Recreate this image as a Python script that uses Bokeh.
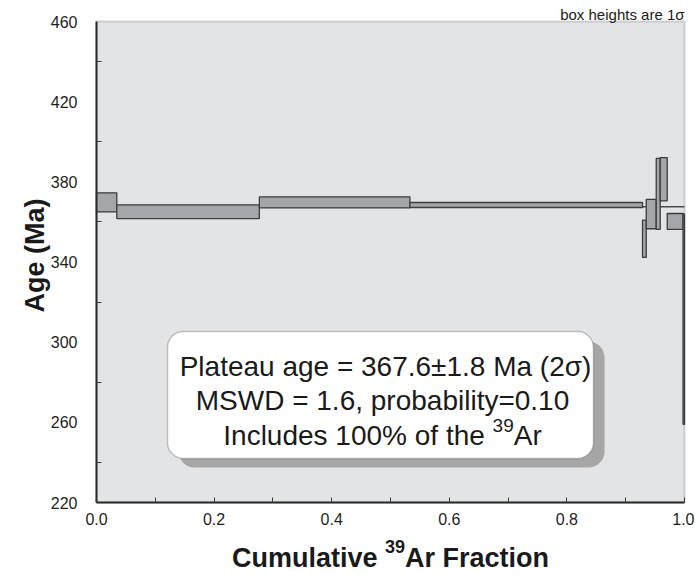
import numpy as np
from math import pi
from bokeh.plotting import figure
from bokeh.models import (Range1d, FixedTicker, BoxAnnotation, Label,
                          ColumnDataSource, PrintfTickFormatter)
from bokeh.embed import file_html
from bokeh.resources import INLINE

# ---------------- data ----------------
step_fraction = [0.0345, 0.2425, 0.2560, 0.3956, 0.0063, 0.0170, 0.0068, 0.0119, 0.0269, 0.0025]
step_age = [369.75, 365.1, 369.75, 368.45, 351.6, 363.9, 374.0, 381.3, 360.25, 311.5]
step_err_1s = [4.75, 3.45, 2.75, 1.25, 9.3, 7.3, 17.7, 10.8, 3.95, 52.5]

plateau_age = 367.6
plateau_err_2s = 1.8
plateau_mswd = 1.6
plateau_prob = 0.10
plateau_pct = 100
plateau_span = [0.0, 1.0]

x_lim = [0.0, 1.0]
y_lim = [220, 460]
x_major_ticks = [0.0, 0.2, 0.4, 0.6, 0.8, 1.0]
x_minor_ticks = [0.1, 0.3, 0.5, 0.7, 0.9]
y_major_ticks = [220, 260, 300, 340, 380, 420, 460]
y_minor_ticks = [240, 280, 320, 360, 400, 440]

# ---------------- layout helpers ----------------
W, H = 694, 574
# page pixel positions of the plotting area
FL, FR, FT, FB = 96, 684, 21, 502

def px(xp):
    return x_lim[0] + (xp - FL) * (x_lim[1] - x_lim[0]) / (FR - FL)

def py(yp):
    return y_lim[1] - (yp - FT) * (y_lim[1] - y_lim[0]) / (FB - FT)

# ---------------- derived ----------------
cum = np.concatenate([[0.0], np.cumsum(step_fraction)])
age = np.array(step_age)
err = np.array(step_err_1s)
src = ColumnDataSource(dict(left=cum[:-1], right=cum[1:], top=age + err, bottom=age - err))

FONT = "Liberation Sans"
p = figure(width=W, height=H, output_backend="svg", toolbar_location=None,
           x_range=Range1d(px(0), px(W)), y_range=Range1d(py(H), py(0)), title=None)
p.min_border = 0
p.min_border_left = 0
p.min_border_right = 0
p.min_border_top = 0
p.min_border_bottom = 0
p.background_fill_color = "white"
p.border_fill_color = "white"
p.outline_line_color = None
p.xgrid.visible = False
p.ygrid.visible = False

# plotting area background + frame
area = BoxAnnotation(left=x_lim[0], right=x_lim[1], bottom=y_lim[0], top=y_lim[1],
                     fill_color="#e3e4e6", fill_alpha=1.0, line_color="#7a7a7a",
                     line_width=2, level="underlay")
p.add_layout(area)

# axes (pinned to the plotting-area edges)
xa = p.xaxis[0]
ya = p.yaxis[0]
xa.fixed_location = y_lim[0]
ya.fixed_location = x_lim[0]
xa.bounds = tuple(x_lim)
ya.bounds = tuple(y_lim)
xa.ticker = FixedTicker(ticks=x_major_ticks, minor_ticks=x_minor_ticks)
xa.formatter = PrintfTickFormatter(format="%.1f")
ya.ticker = FixedTicker(ticks=y_major_ticks, minor_ticks=y_minor_ticks)
for ax in (xa, ya):
    ax.axis_line_color = "#2b2b2b"
    ax.axis_line_width = 2
    ax.major_tick_out = 0
    ax.minor_tick_out = 0
    ax.minor_tick_in = 5
    ax.major_tick_line_color = "#3a3a3a"
    ax.minor_tick_line_color = "#3a3a3a"
    ax.major_label_text_font = FONT
    ax.major_label_text_font_size = "16px"
    ax.major_label_text_color = "#1e1e1e"
xa.major_tick_in = 5
ya.major_tick_in = 0
xa.major_label_standoff = 10
ya.major_label_standoff = 19

# plateau line
p.line(plateau_span, [plateau_age, plateau_age], line_color="#4a4a4a", line_width=1.6)

# step boxes
p.quad(left="left", right="right", top="top", bottom="bottom", source=src,
       fill_color="#a4a6a9", line_color="#3c3c3c", line_width=1.3)

# result box with shadow
shadow = BoxAnnotation(left=px(178), right=px(604), top=py(341), bottom=py(467),
                       fill_color="#a6a6a6", fill_alpha=1.0, line_alpha=0,
                       border_radius=16)
box = BoxAnnotation(left=px(167), right=px(593), top=py(331), bottom=py(458),
                    fill_color="white", fill_alpha=1.0, line_color="#4a4a4a",
                    line_width=1.5, border_radius=16)
p.add_layout(shadow)
p.add_layout(box)

def lab(x, y, text, size, bold=False, align="left", angle=0, color="#1a1a1a"):
    p.add_layout(Label(x=x, y=y, text=text, text_font=FONT,
                       text_font_size=f"{size}px",
                       text_font_style="bold" if bold else "normal",
                       text_align=align, text_baseline="alphabetic",
                       angle=angle, text_color=color))

line1 = f"Plateau age = {plateau_age:.1f}\u00b1{plateau_err_2s:.1f} Ma (2\u03c3)"
line2 = f"MSWD = {plateau_mswd:.1f}, probability={plateau_prob:.2f}"
lab(px(385), py(366), line1, 28, align="center")
lab(px(382), py(400), line2, 28, align="center")
# line 3 with superscript
s28 = 28 / 1000.0
w_a = 9617 * s28
w_b = 1112 * 19 / 1000.0
w_c = 1000 * s28
x0 = 382 - (w_a + w_b + w_c) / 2
lab(px(x0), py(435), f"Includes {plateau_pct}% of the ", 28)
lab(px(x0 + w_a), py(425), "39", 19)
lab(px(x0 + w_a + w_b), py(435), "Ar", 28)

# x axis label with superscript
s27 = 27 / 1000.0
wa = 5668 * s27
wb = 1112 * 18 / 1000.0
wc = 5334 * s27
xs = 390 - (wa + wb + wc) / 2
lab(px(xs), py(557), "Cumulative ", 27, bold=True)
lab(px(xs + wa), py(546), "39", 18, bold=True)
lab(px(xs + wa + wb), py(557), "Ar Fraction", 27, bold=True)

# y axis label
lab(px(34), py(255), "Age (Ma)", 27, bold=True, align="center", angle=pi / 2)

# note top right
lab(px(684), py(14), "box heights are 1\u03c3", 15, align="right")

open("out.html", "w").write(file_html(p, INLINE))
